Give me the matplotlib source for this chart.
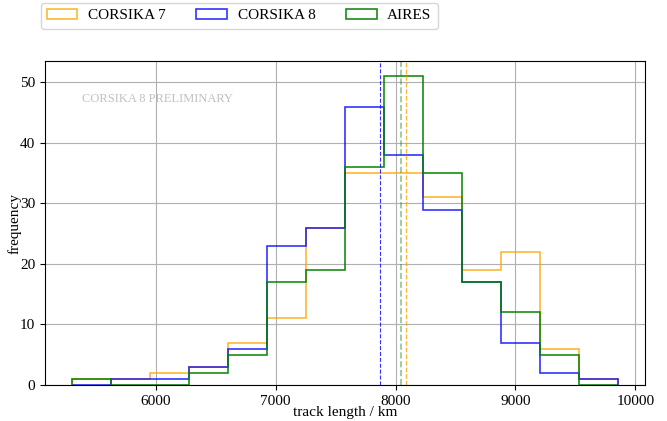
import numpy as np
import matplotlib.pyplot as plt

plt.rcParams["font.family"] = ["Liberation Serif", "DejaVu Serif"]

# shared bin edges of the track length histograms (km)
edges = [5303, 5628, 5953, 6278, 6603, 6928, 7253, 7578,
         7903, 8228, 8553, 8878, 9203, 9528, 9853]

c7_counts = [1, 1, 2, 3, 7, 11, 26, 35, 35, 31, 19, 22, 6, 1]
c8_counts = [0, 1, 1, 3, 6, 23, 26, 46, 38, 29, 17, 7, 2, 1]
aires_counts = [1, 0, 0, 2, 5, 17, 19, 36, 51, 35, 17, 12, 5, 0]

# mean track lengths (dashed lines)
c7_mean = 8086
c8_mean = 7869
aires_mean = 8047

fig = plt.figure(figsize=(6.67, 4.21), dpi=100)
ax = fig.add_axes([45 / 667, 1 - 385 / 421, 600 / 667, 324 / 421])

centers = np.array(edges[:-1])
ax.hist(centers, bins=edges, weights=c7_counts, histtype="step",
        color="orange", alpha=0.8, linewidth=1.2, label="CORSIKA 7")
ax.hist(centers, bins=edges, weights=c8_counts, histtype="step",
        color="blue", alpha=0.8, linewidth=1.2, label="CORSIKA 8")
ax.hist(centers, bins=edges, weights=aires_counts, histtype="step",
        color="green", alpha=0.9, linewidth=1.2, label="AIRES")

ax.axvline(c7_mean, color="orange", linestyle="--", linewidth=0.9, alpha=0.8)
ax.axvline(c8_mean, color="blue", linestyle="--", linewidth=0.8, alpha=0.8)
ax.axvline(aires_mean, color="green", linestyle="--", linewidth=1.2, alpha=0.45)

ax.text(0.062, 0.883, "CORSIKA 8 PRELIMINARY", transform=ax.transAxes,
        fontsize=9, color="#c0c0c0", va="center", ha="left")

ax.grid(True)
ax.set_axisbelow(True)
ax.set_xlabel("track length / km", fontsize=11, labelpad=-1.5)
ax.set_ylabel("frequency", fontsize=11, labelpad=-1)
ax.tick_params(labelsize=11)
ax.set_xticks([6000, 7000, 8000, 9000, 10000])

ax.legend(loc="lower left", bbox_to_anchor=(-0.007, 1.1), ncol=3,
          borderaxespad=0, fontsize=11, columnspacing=2.0, handlelength=2.0,
          handletextpad=0.7)

fig.savefig("out.png", dpi=100)
